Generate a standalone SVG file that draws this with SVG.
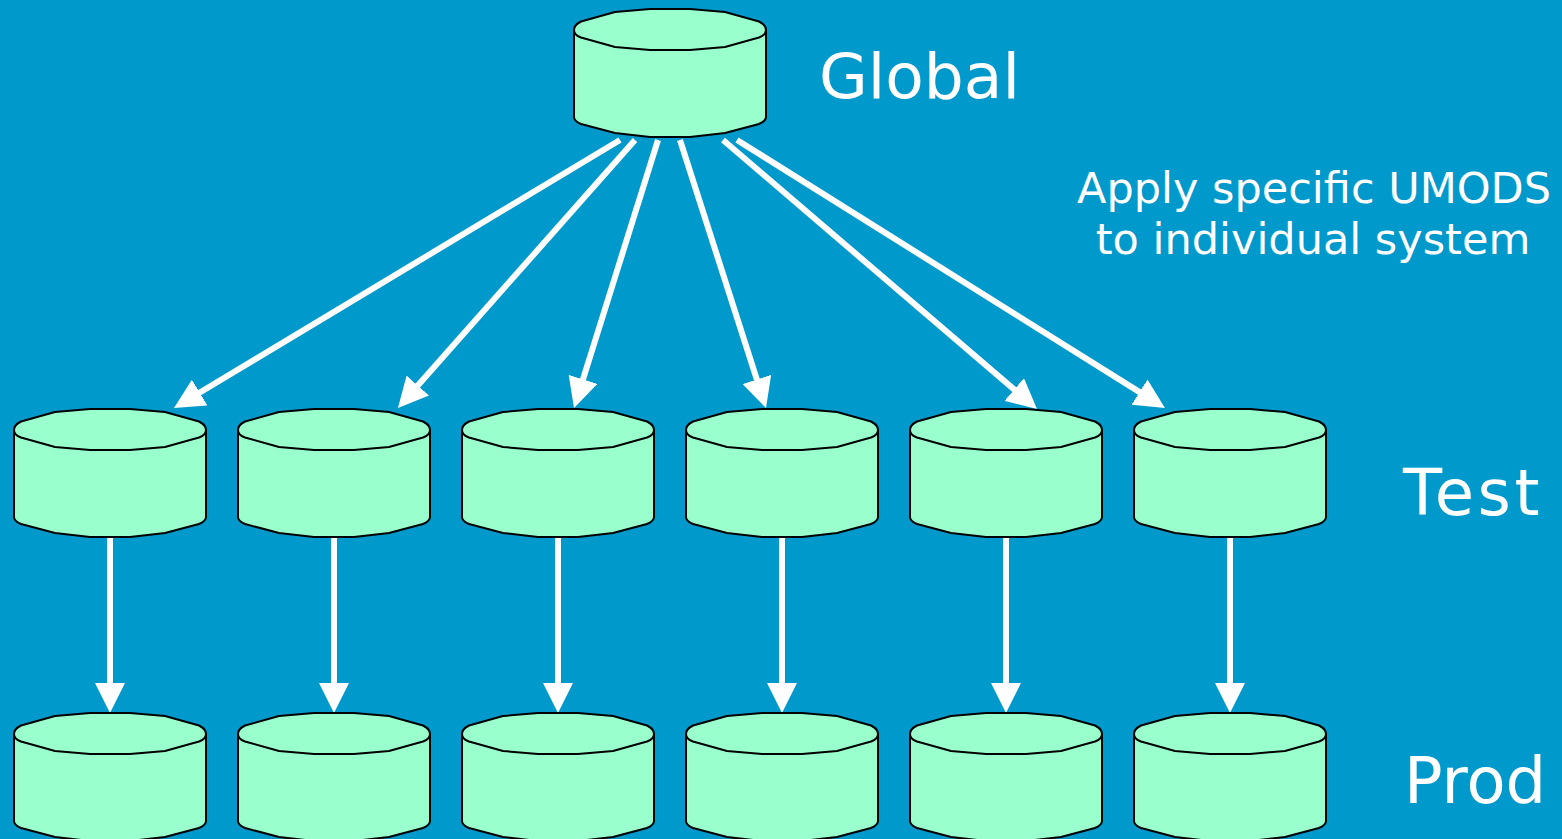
<svg xmlns="http://www.w3.org/2000/svg" xmlns:xlink="http://www.w3.org/1999/xlink" width="1562" height="839" viewBox="0 0 1562 839">
<style>
.body{fill:#99ffcc;stroke:#000;stroke-width:2;stroke-linejoin:round}
.lid{fill:none;stroke:#000;stroke-width:2;stroke-linejoin:round}
.conn{stroke:#fff;stroke-width:6;fill:none}
.lbl{fill:#fff;font-family:"DejaVu Sans",Verdana,sans-serif}
</style>
<defs>
<marker id="ah" markerUnits="userSpaceOnUse" viewBox="0 0 30 30" markerWidth="30" markerHeight="30" refX="10" refY="15" orient="auto">
<path d="M0,0 L30,15 L0,30 Z" fill="#fff"/>
</marker>
<g id="cyl">
<path class="body" d="M0,21 Q0,16 7,12.5 L41,3 L76,0 L116,0 L151,3 L185,12.5 Q192,16 192,21 L192,108 Q192,112 185,115 L151,124 L116,128 L76,128 L41,124 L7,115 Q0,112 0,108 Z"/>
<path class="lid" d="M0,21 Q0,26 7,28.5 L41,38 L76,41 L116,41 L151,38 L185,28.5 Q192,26 192,21"/>
</g>
</defs>
<rect width="1562" height="839" fill="#0099cc"/>
<g id="connectors">
<line class="conn" x1="620" y1="140" x2="191.1" y2="397.7" marker-end="url(#ah)"/>
<line class="conn" x1="635" y1="140" x2="411.2" y2="393.0" marker-end="url(#ah)"/>
<line class="conn" x1="658" y1="140" x2="580.0" y2="388.9" marker-end="url(#ah)"/>
<line class="conn" x1="680" y1="140" x2="759.9" y2="389.0" marker-end="url(#ah)"/>
<line class="conn" x1="723" y1="140" x2="1021.8" y2="396.0" marker-end="url(#ah)"/>
<line class="conn" x1="737" y1="140" x2="1148.0" y2="397.4" marker-end="url(#ah)"/>
<line class="conn" x1="110" y1="537" x2="110" y2="693" marker-end="url(#ah)"/>
<line class="conn" x1="334" y1="537" x2="334" y2="693" marker-end="url(#ah)"/>
<line class="conn" x1="558" y1="537" x2="558" y2="693" marker-end="url(#ah)"/>
<line class="conn" x1="782" y1="537" x2="782" y2="693" marker-end="url(#ah)"/>
<line class="conn" x1="1006" y1="537" x2="1006" y2="693" marker-end="url(#ah)"/>
<line class="conn" x1="1230" y1="537" x2="1230" y2="693" marker-end="url(#ah)"/>
</g>
<g id="global"><use xlink:href="#cyl" x="574" y="9"/></g>
<g id="test1"><use xlink:href="#cyl" x="14" y="409"/></g>
<g id="test2"><use xlink:href="#cyl" x="238" y="409"/></g>
<g id="test3"><use xlink:href="#cyl" x="462" y="409"/></g>
<g id="test4"><use xlink:href="#cyl" x="686" y="409"/></g>
<g id="test5"><use xlink:href="#cyl" x="910" y="409"/></g>
<g id="test6"><use xlink:href="#cyl" x="1134" y="409"/></g>
<g id="prod1"><use xlink:href="#cyl" x="14" y="713"/></g>
<g id="prod2"><use xlink:href="#cyl" x="238" y="713"/></g>
<g id="prod3"><use xlink:href="#cyl" x="462" y="713"/></g>
<g id="prod4"><use xlink:href="#cyl" x="686" y="713"/></g>
<g id="prod5"><use xlink:href="#cyl" x="910" y="713"/></g>
<g id="prod6"><use xlink:href="#cyl" x="1134" y="713"/></g>
<g id="labels">
<text class="lbl" x="819" y="98" font-size="63">Global</text>
<text class="lbl" x="1403" y="515" font-size="64" letter-spacing="3.5">Test</text>
<text class="lbl" x="1404" y="803" font-size="64">Prod</text>
<text class="lbl" x="1314" y="203" font-size="43" text-anchor="middle">Apply specific UMODS</text>
<text class="lbl" x="1313" y="254" font-size="43" text-anchor="middle">to individual system</text>
</g>
</svg>
